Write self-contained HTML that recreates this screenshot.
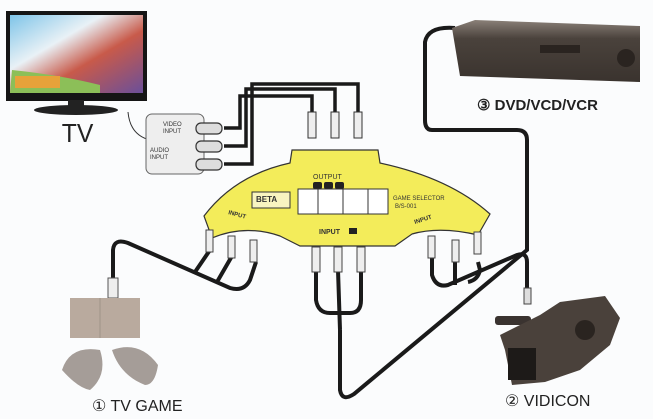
<!DOCTYPE html>
<html><head><meta charset="utf-8"><style>
html,body{margin:0;padding:0;background:#fff}
svg{display:block}
text{font-family:"Liberation Sans",sans-serif}
</style></head><body>
<svg width="653" height="419" viewBox="0 0 653 419" xmlns="http://www.w3.org/2000/svg">
<rect width="653" height="419" fill="#fbfcfd"/>
<defs>
<linearGradient id="scr" x1="0" y1="0" x2="1" y2="1">
<stop offset="0" stop-color="#7ec4e8"/><stop offset="0.35" stop-color="#e9f1f6"/>
<stop offset="0.6" stop-color="#c85a4a"/><stop offset="1" stop-color="#6a4f9a"/></linearGradient>
<linearGradient id="dvd" x1="0" y1="0" x2="0" y2="1">
<stop offset="0" stop-color="#8a8078"/><stop offset="0.3" stop-color="#4a423c"/><stop offset="1" stop-color="#3a332e"/></linearGradient>
</defs>
<!-- TV -->
<rect x="6" y="11" width="141" height="90" fill="#151515"/>
<rect x="10" y="15" width="133" height="78" fill="url(#scr)"/>
<path d="M12 70 Q60 75 100 85 L100 93 L10 93Z" fill="#8cbf58"/>
<rect x="15" y="76" width="45" height="12" fill="#e7a23a"/>
<rect x="68" y="100" width="16" height="6" fill="#222"/>
<ellipse cx="76" cy="110" rx="42" ry="5" fill="#222"/>
<text x="62" y="142" font-size="26" fill="#222" transform="scale(0.95 1) translate(3 0)">TV</text>
<!-- TV input box -->
<path d="M128 112 Q130 135 150 140" stroke="#333" fill="none" stroke-width="1"/>
<rect x="146" y="114" width="58" height="60" rx="6" fill="#eee" stroke="#666"/>
<text x="163" y="126" font-size="6" fill="#333">VIDEO</text><text x="163" y="133" font-size="6" fill="#333">INPUT</text>
<text x="150" y="152" font-size="6" fill="#333">AUDIO</text><text x="150" y="159" font-size="6" fill="#333">INPUT</text>
<g fill="#ddd" stroke="#333" stroke-width="1.2">
<rect x="196" y="123" width="26" height="11" rx="5"/><rect x="196" y="141" width="26" height="11" rx="5"/><rect x="196" y="159" width="26" height="11" rx="5"/>
</g>
<!-- output cables -->
<g stroke="#1a1a1a" stroke-width="3.5" fill="none">
<path d="M224 128 L240 128 L240 96 L312 96 L312 118"/>
<path d="M224 146 L246 146 L246 89 L335 89 L335 118"/>
<path d="M224 164 L252 164 L252 84 L358 84 L358 118"/>
</g>
<g fill="#eee" stroke="#333"><rect x="308" y="112" width="8" height="26"/><rect x="331" y="112" width="8" height="26"/><rect x="354" y="112" width="8" height="26"/></g>
<!-- DVD path -->
<path d="M340 330 L340 390 Q342 402 354 394 L527 250 L527 140 Q527 130 517 130 L432 130 Q425 130 425 120 L425 42 Q428 26 455 28" stroke="#1a1a1a" stroke-width="4" fill="none"/>
<!-- Camera path -->
<path d="M432 250 L432 275 Q436 288 448 285 L517 255 Q527 252 527 262 L527 290" stroke="#1a1a1a" stroke-width="4" fill="none"/>
<path d="M455 258 L455 285 M478 262 L480 270 Q478 280 468 282" stroke="#1a1a1a" stroke-width="4" fill="none"/>
<!-- input2 cables -->
<path d="M316 270 L316 300 Q318 313 330 313 L350 313 Q361 313 361 300 L361 270 M338 270 L340 330" stroke="#1a1a1a" stroke-width="4" fill="none"/>
<!-- console cable -->
<path d="M113 278 L113 250 Q114 238 128 243 L230 288 Q244 292 250 280 L256 262 M195 272 L210 250 M217 282 L232 256" stroke="#1a1a1a" stroke-width="4" fill="none"/>
<!-- selector -->
<path d="M204 216 Q235 175 290 163 L292 150 L378 150 L380 163 Q450 178 490 214 L478 235 Q440 226 412 234 L395 246 L300 246 L280 236 Q245 224 212 238 Z" fill="#f3ec5a" stroke="#333" stroke-width="1.2"/>
<text x="313" y="179" font-size="7" fill="#333">OUTPUT</text>
<g fill="#222"><rect x="313" y="182" width="9" height="7" rx="2"/><rect x="324" y="182" width="9" height="7" rx="2"/><rect x="335" y="182" width="9" height="7" rx="2"/></g>
<rect x="252" y="192" width="38" height="16" fill="#f8f4c0" stroke="#333"/>
<text x="256" y="202" font-size="8" font-weight="bold" fill="#333" font-family="Liberation Serif">BETA</text>
<rect x="298" y="189" width="90" height="25" fill="#fff" stroke="#333"/>
<g stroke="#333"><line x1="318" y1="189" x2="318" y2="214"/><line x1="343" y1="189" x2="343" y2="214"/><line x1="368" y1="189" x2="368" y2="214"/></g>
<text x="393" y="200" font-size="6" fill="#333">GAME SELECTOR</text><text x="395" y="208" font-size="6" fill="#333">B/S-001</text>
<text x="319" y="234" font-size="7" font-weight="bold" fill="#333">INPUT</text><rect x="349" y="228" width="8" height="6" fill="#222"/>
<text x="228" y="214" font-size="6" font-weight="bold" fill="#333" transform="rotate(15 228 214)">INPUT</text>
<text x="415" y="224" font-size="6" font-weight="bold" fill="#333" transform="rotate(-18 415 224)">INPUT</text>
<g fill="#eee" stroke="#444"><rect x="312" y="247" width="8" height="25"/><rect x="334" y="247" width="8" height="25"/><rect x="357" y="247" width="8" height="25"/>
<rect x="206" y="230" width="7" height="22"/><rect x="228" y="236" width="7" height="22"/><rect x="250" y="240" width="7" height="22"/>
<rect x="428" y="236" width="7" height="22"/><rect x="452" y="240" width="7" height="22"/><rect x="474" y="232" width="7" height="22"/></g>
<!-- DVD -->
<path d="M452 28 L475 20 L640 26 L640 82 L460 76 Z" fill="url(#dvd)"/>
<rect x="540" y="45" width="40" height="8" fill="#2a2420"/>
<circle cx="626" cy="58" r="9" fill="#2a2420"/>
<text x="477" y="110" font-size="15" font-weight="bold" fill="#222">③ DVD/VCD/VCR</text>
<!-- console -->
<rect x="524" y="288" width="7" height="16" fill="#ddd" stroke="#444"/>
<rect x="108" y="278" width="10" height="20" fill="#eee" stroke="#555"/>
<rect x="70" y="298" width="70" height="40" fill="#b9aa9e"/>
<line x1="100" y1="298" x2="100" y2="338" stroke="#a09488"/>
<path d="M62 370 Q70 345 100 350 Q108 375 90 390 Q78 388 62 370Z M112 350 Q140 340 158 365 Q155 385 145 385 Q120 375 112 350Z" fill="#a59d98"/>
<text x="92" y="411" font-size="16" fill="#222">① TV GAME</text>
<!-- camera -->
<rect x="495" y="316" width="36" height="9" rx="3" fill="#3a3330"/>
<path d="M500 335 L540 315 L560 302 L605 296 L620 318 L610 345 L580 370 L545 382 L512 385 L505 350 Z" fill="#4a413b"/>
<rect x="508" y="348" width="28" height="32" fill="#1d1a18"/>
<circle cx="585" cy="330" r="10" fill="#2a2420"/>
<text x="505" y="406" font-size="16" fill="#222">② VIDICON</text>
</svg>
</body></html>
